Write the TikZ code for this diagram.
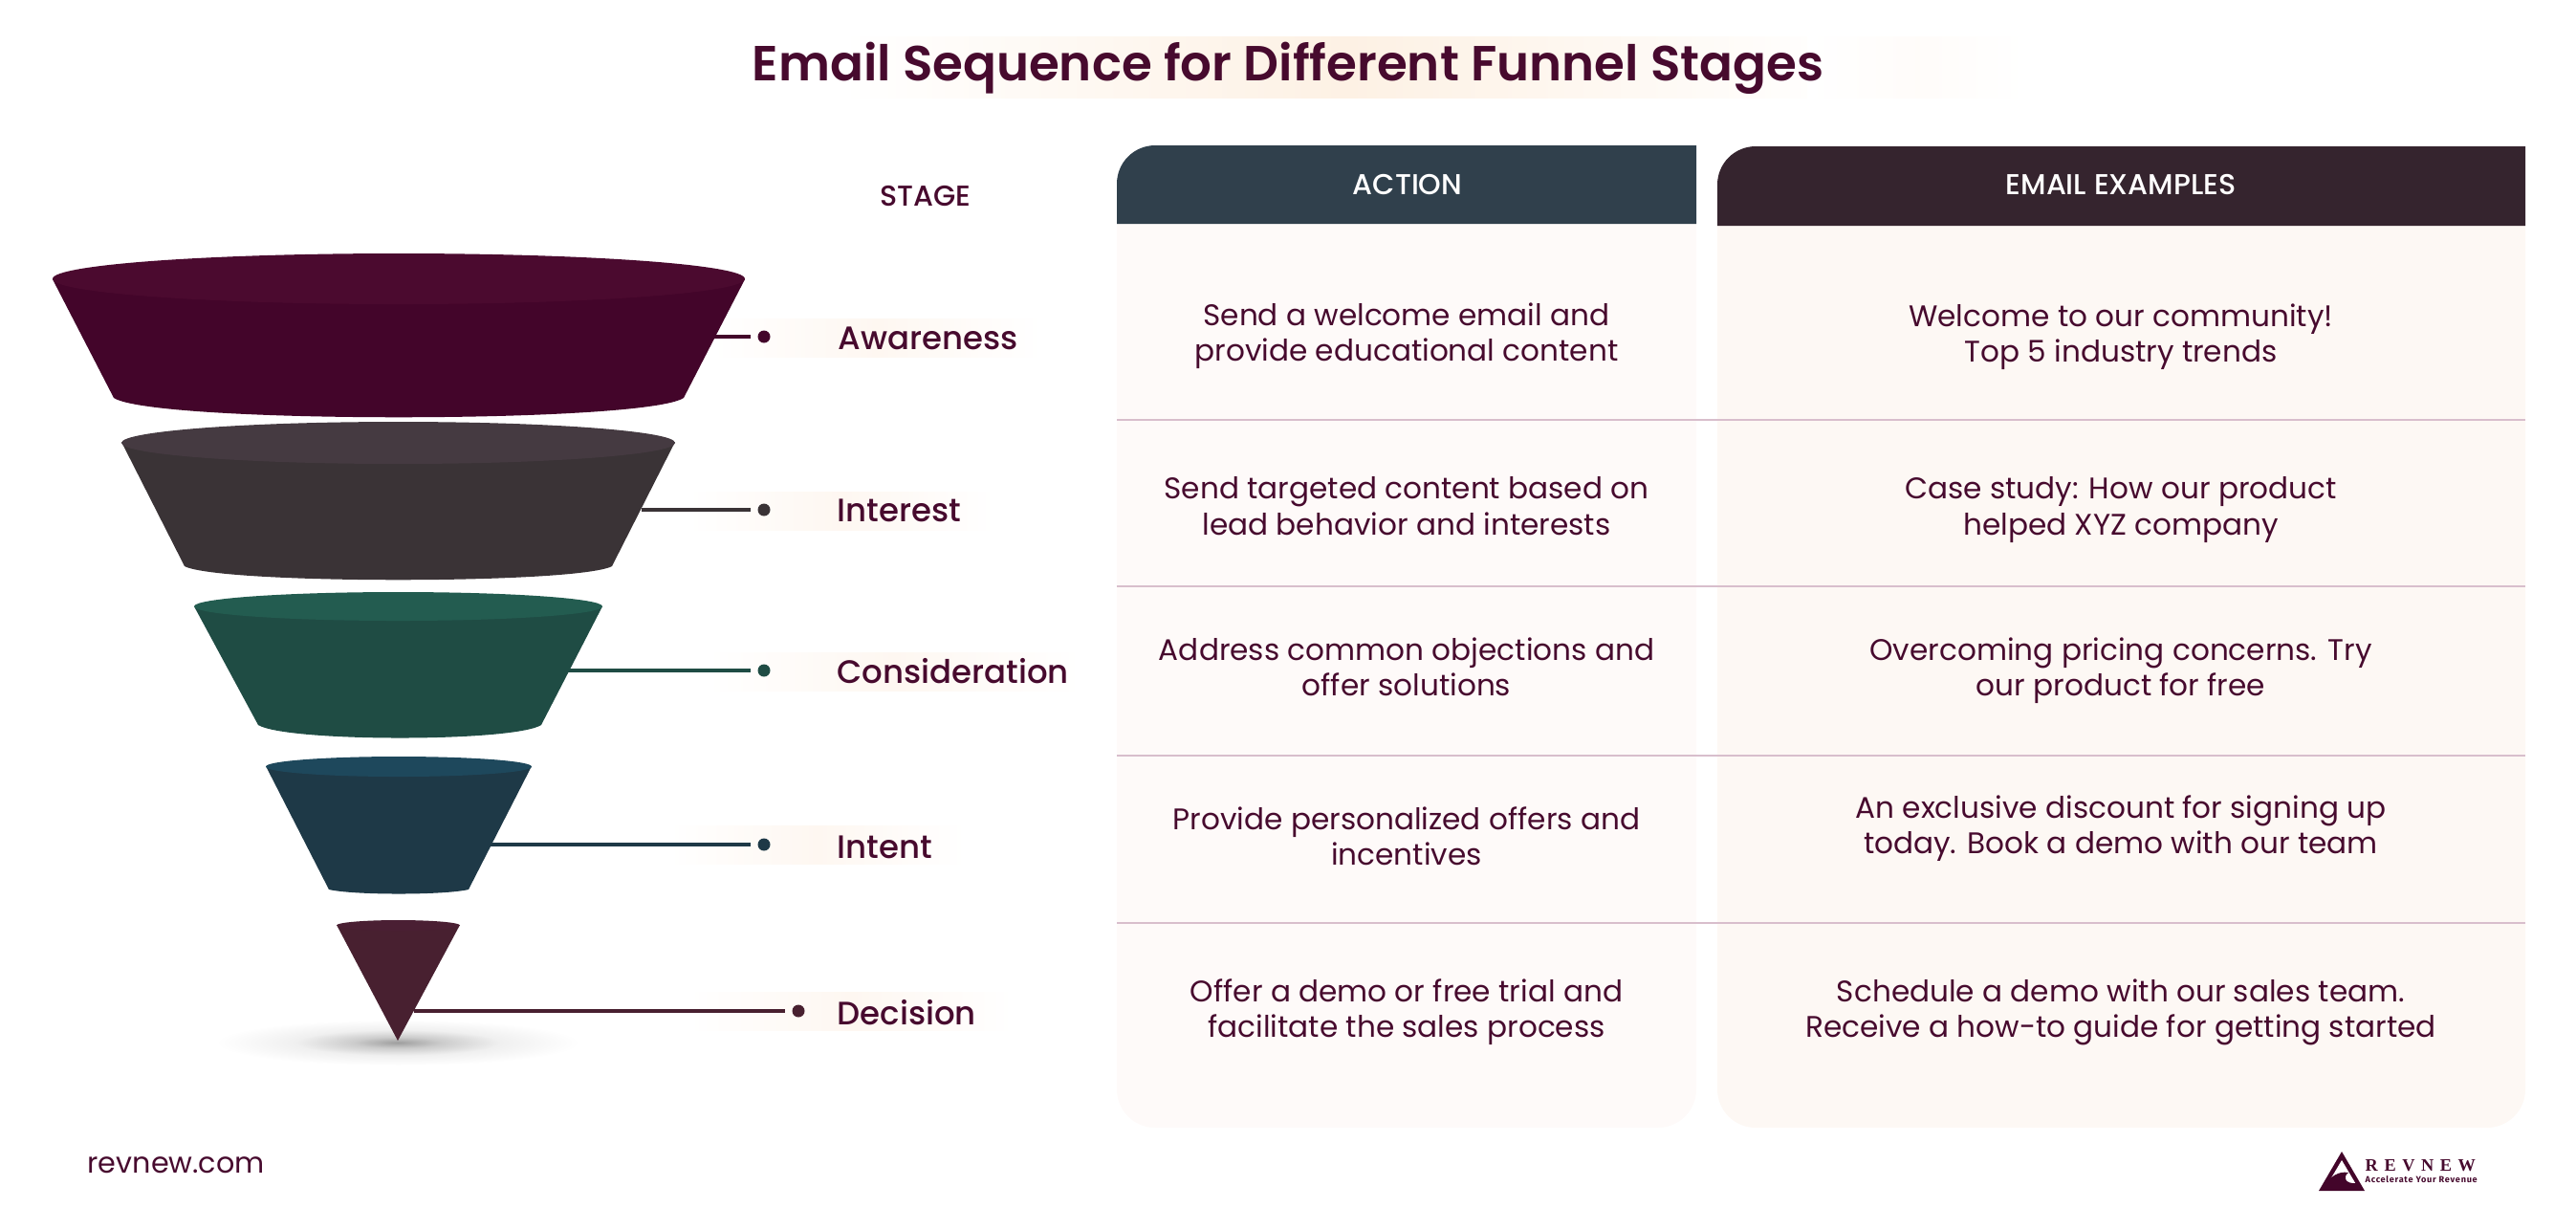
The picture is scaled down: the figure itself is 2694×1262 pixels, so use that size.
\documentclass[tikz,border=0pt]{standalone}
\usepackage{fontspec}
\setmainfont{Poppins}
\newfontfamily\mediumfont{Poppins Medium}
\newfontfamily\titlefont{Poppins SemiBold}
\newfontfamily\logofont[LetterSpace=36]{Liberation Serif}
\newfontfamily\tagfont[LetterSpace=8]{Fira Sans}
\usepackage{tikz}
\definecolor{plumtext}{HTML}{470A2E}
\definecolor{bandtint}{HTML}{FEF7F1}
\definecolor{titletint}{HTML}{FDF1E4}
\definecolor{rowline}{HTML}{D8BECC}
\definecolor{actionbody}{HTML}{FEFAF9}
\definecolor{emailbody}{HTML}{FDF8F4}
\definecolor{actionhead}{HTML}{30404C}
\definecolor{emailhead}{HTML}{35242E}
\definecolor{awarebody}{HTML}{43052A}
\definecolor{awaretop}{HTML}{4B0A2F}
\definecolor{interbody}{HTML}{3A3336}
\definecolor{intertop}{HTML}{453A41}
\definecolor{considbody}{HTML}{1F4C44}
\definecolor{considtop}{HTML}{235C50}
\definecolor{intentbody}{HTML}{1E3947}
\definecolor{intenttop}{HTML}{1E485C}
\definecolor{decidebody}{HTML}{482030}
\definecolor{decidetop}{HTML}{4A1F33}
\pgfdeclareradialshading{floorshadow}{\pgfpoint{0bp}{0bp}}{color(0bp)=(black!38); color(6bp)=(black!20); color(14bp)=(black!6); color(25bp)=(white); color(50bp)=(white)}

\begin{document}
\begin{tikzpicture}[x=0.01cm, y=-0.01cm,
    every node/.style = {align=center, text=plumtext, inner sep=0pt},
    celltext/.style = {font=\fontsize{8.85}{10.6}\selectfont},
    headtext/.style = {font=\mediumfont\fontsize{8.55}{10}\selectfont},
    stagetext/.style = {anchor=west, font=\mediumfont\fontsize{9.65}{12}\selectfont},
    stagedot/.style = {circle, minimum size=0.13cm, outer sep=2.1pt},
    stageline/.style = {line width=1pt},
    stageband/.style = {left color=white, right color=white, middle color=bandtint},
    rowrule/.style = {rowline, line width=0.4pt}]
  \useasboundingbox (0,0) rectangle (2694,1262);

  \shade[left color=white, right color=white, middle color=titletint] (880,38) rectangle (1940,102);
  \shade[left color=white, right color=white, middle color=bandtint!40] (1890,38) rectangle (2120,102);
  \node[font=\titlefont\fontsize{14.65}{16}\selectfont] (title) at (1347,71) {Email Sequence for Different Funnel Stages};

  \fill[actionbody] (1168,234) [rounded corners=0.4cm] -- (1168,1179) -- (1774,1179) [sharp corners] -- (1774,234) -- cycle;
  \fill[emailbody] (1796,236) [rounded corners=0.4cm] -- (1796,1179) -- (2641,1179) [sharp corners] -- (2641,236) -- cycle;
  \fill[actionhead] (1168,234) [rounded corners=0.4cm] -- (1168,152) [sharp corners] -- (1774,152) -- (1774,234) -- cycle;
  \fill[emailhead] (1796,236) [rounded corners=0.4cm] -- (1796,153) [sharp corners] -- (2641,153) -- (2641,236) -- cycle;
  \draw[rowrule] (1168,439) -- (2641,439);
  \draw[rowrule] (1168,613) -- (2641,613);
  \draw[rowrule] (1168,790) -- (2641,790);
  \draw[rowrule] (1168,965) -- (2641,965);

  \node[headtext] (stagehead) at (968,205) {STAGE};
  \node[headtext, text=white] (actionlabel) at (1472,193) {ACTION};
  \node[headtext, text=white] (emaillabel) at (2218,193) {EMAIL EXAMPLES};

  \shade[shading=floorshadow] (416,1090) ellipse [x radius=190, y radius=24];

  \shade[stageband] (745,333) rectangle (1090,373);
  \shade[stageband] (720,514) rectangle (1040,554);
  \shade[stageband] (740,682) rectangle (1130,722);
  \shade[stageband] (700,863) rectangle (1010,903);
  \shade[stageband] (720,1037) rectangle (1060,1077);

  \fill[awarebody] (55,292) -- (119,416) .. controls (160,443) and (674,443) .. (715,416) -- (779,292) -- cycle;
  \fill[awaretop] (417,291.5) ellipse [x radius=362, y radius=26.5];
  \fill[interbody] (127,462) -- (193,592) .. controls (230,611) and (603,611) .. (640,592) -- (706,462) -- cycle;
  \fill[intertop] (416.5,463) ellipse [x radius=289.5, y radius=22];
  \fill[considbody] (203,634) -- (270,758) .. controls (300,776) and (537,776) .. (566,758) -- (630,634) -- cycle;
  \fill[considtop] (416.5,634) ellipse [x radius=213.5, y radius=15];
  \fill[intentbody] (278,801) -- (344,930) .. controls (370,936) and (464,936) .. (490,930) -- (556,801) -- cycle;
  \fill[intenttop] (417,801.5) ellipse [x radius=139, y radius=10.5];
  \fill[decidebody] (352,967) -- (416,1088) -- (481,967) -- cycle;
  \fill[decidetop] (416.5,967.5) ellipse [x radius=64.5, y radius=5.5];

  \coordinate (awareedge) at (745,352);
  \coordinate (interedge) at (671,533);
  \coordinate (considedge) at (594,701);
  \coordinate (intentedge) at (512,883);
  \coordinate (decideedge) at (433,1057);
  \node[stagedot, fill=awarebody] (awaredot) at (799,352) {};
  \node[stagedot, fill=interbody] (interdot) at (799,533) {};
  \node[stagedot, fill=considbody] (considdot) at (799,701) {};
  \node[stagedot, fill=intentbody] (intentdot) at (799,883) {};
  \node[stagedot, fill=decidebody] (decidedot) at (835,1057) {};
  \draw[stageline, awarebody] (awareedge) -- (awaredot);
  \draw[stageline, interbody] (interedge) -- (interdot);
  \draw[stageline, considbody] (considedge) -- (considdot);
  \draw[stageline, intentbody] (intentedge) -- (intentdot);
  \draw[stageline, decidebody] (decideedge) -- (decidedot);

  \node[stagetext] (aware) at (876,354) {Awareness};
  \node[stagetext] (inter) at (875,534) {Interest};
  \node[stagetext] (consid) at (875,702) {Consideration};
  \node[stagetext] (intent) at (875,886) {Intent};
  \node[stagetext] (decide) at (875,1059) {Decision};

  \node[celltext] (actionaware) at (1471,351) {Send a welcome email and\\provide educational content};
  \node[celltext] (actioninter) at (1471,529) {Send targeted content based on\\lead behavior and interests};
  \node[celltext] (actionconsid) at (1471,697) {Address common objections and\\offer solutions};
  \node[celltext] (actionintent) at (1471,874) {Provide personalized offers and\\incentives};
  \node[celltext] (actiondecide) at (1471,1058) {Offer a demo or free trial and\\facilitate the sales process};
  \node[celltext] (emailaware) at (2218,352) {Welcome to our community!\\Top 5 industry trends};
  \node[celltext] (emailinter) at (2218,533) {Case study: How our product\\helped XYZ company};
  \node[celltext] (emailconsid) at (2218,701) {Overcoming pricing concerns. Try\\our product for free};
  \node[celltext] (emailintent) at (2218,866) {An exclusive discount for signing up\\today. Book a demo with our team};
  \node[celltext] (emaildecide) at (2218,1058) {Schedule a demo with our sales team.\\Receive a how-to guide for getting started};

  \node[anchor=west, font=\fontsize{8.6}{10}\selectfont] (site) at (91,1218) {revnew.com};

  \fill[awarebody] (2449,1204) -- (2425,1245) -- (2473,1245) -- cycle;
  \fill[white] (2449,1213) -- (2433,1240) -- (2465,1240) -- cycle;
  \fill[awarebody] (2431,1241) .. controls (2436,1230) and (2446,1224) .. (2456,1226) .. controls (2450,1230) and (2452,1238) .. (2464,1237) -- (2467,1241) -- cycle;
  \node[anchor=west, font=\logofont\bfseries\fontsize{5.2}{6}\selectfont] (logoword) at (2473,1219) {REVNEW};
  \node[anchor=west, font=\tagfont\bfseries\fontsize{2.6}{3}\selectfont] (logotag) at (2473,1233) {Accelerate Your Revenue};
\end{tikzpicture}
\end{document}
